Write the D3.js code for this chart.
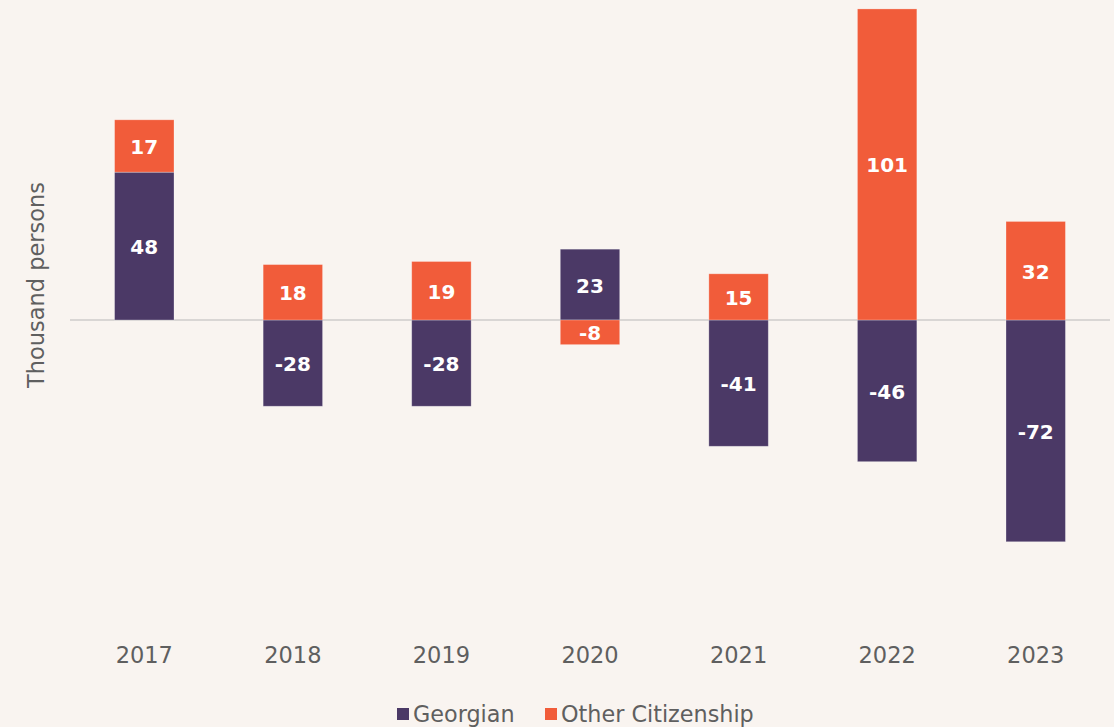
<!DOCTYPE html>
<html>
<head>
<meta charset="utf-8">
<script src="https://cdn.jsdelivr.net/npm/d3@7/dist/d3.min.js"></script>
<style>
  html, body { margin: 0; padding: 0; background: #f9f4f0; }
  svg { display: block; }
</style>
</head>
<body>
<svg id="chart" width="1114" height="727"></svg>
<script>
// Net migration by citizenship, thousand persons
const years = ["2017", "2018", "2019", "2020", "2021", "2022", "2023"];
const georgian = [48, -28, -28, 23, -41, -46, -72];
const otherCitizenship = [17, 18, 19, -8, 15, 101, 32];
const seriesNames = ["Georgian", "Other Citizenship"];
const seriesColors = ["#4b3966", "#f15c3a"];
const yTitle = "Thousand persons";

const svg = d3.select("#chart");
const plotLeft = 70, plotRight = 1110, plotTop = 8, plotBottom = 628;

const x = d3.scaleBand().domain(years).range([plotLeft, plotRight])
  .paddingInner(0.6).paddingOuter(0.3);
const y = d3.scaleLinear().domain([-100, 101.3]).range([plotBottom, plotTop]);

// Stack positives upward and negatives downward from zero
const segments = [];
years.forEach((yr, i) => {
  let pos = 0, neg = 0;
  [georgian[i], otherCitizenship[i]].forEach((v, s) => {
    let y0, y1;
    if (v >= 0) { y0 = pos; y1 = pos + v; pos = y1; }
    else { y0 = neg; y1 = neg + v; neg = y1; }
    segments.push({ year: yr, series: s, value: v, y0, y1 });
  });
});

// Zero line
svg.append("line")
  .attr("x1", plotLeft).attr("x2", plotRight)
  .attr("y1", y(0)).attr("y2", y(0))
  .attr("stroke", "#d9d6d4").attr("stroke-width", 2);

const g = svg.append("g");
g.selectAll("rect").data(segments).join("rect")
  .attr("x", d => x(d.year))
  .attr("width", x.bandwidth())
  .attr("y", d => y(Math.max(d.y0, d.y1)))
  .attr("height", d => Math.abs(y(d.y0) - y(d.y1)))
  .attr("fill", d => seriesColors[d.series])
  .attr("stroke", "#ffffff").attr("stroke-opacity", 0.35).attr("stroke-width", 0.8);

g.selectAll("text.val").data(segments).join("text")
  .attr("class", "val")
  .attr("x", d => x(d.year) + x.bandwidth() / 2)
  .attr("y", d => (y(d.y0) + y(d.y1)) / 2 + 1)
  .attr("text-anchor", "middle")
  .attr("dominant-baseline", "central")
  .attr("font-family", "DejaVu Sans")
  .attr("font-weight", "bold")
  .attr("font-size", 20)
  .attr("fill", "#ffffff")
  .text(d => d.value);

// Category axis labels
const xAxis = d3.axisBottom(x).tickSize(0).tickPadding(0);
const ax = svg.append("g").attr("transform", "translate(0, 647)").call(xAxis);
ax.select(".domain").remove();
ax.selectAll("text")
  .attr("font-family", "DejaVu Sans")
  .attr("font-size", 22.5)
  .attr("fill", "#5f5f5f")
  .attr("dy", "0.71em");

// Y axis title
svg.append("text")
  .attr("transform", "translate(44, 285) rotate(-90)")
  .attr("text-anchor", "middle")
  .attr("font-family", "DejaVu Sans")
  .attr("font-size", 22.5)
  .attr("fill", "#5f5f5f")
  .text(yTitle);

// Legend
const legendX = [397, 545];
const legend = svg.append("g");
seriesNames.forEach((name, i) => {
  legend.append("rect")
    .attr("x", legendX[i]).attr("y", 708)
    .attr("width", 12).attr("height", 12)
    .attr("fill", seriesColors[i]);
  legend.append("text")
    .attr("x", legendX[i] + 16).attr("y", 714)
    .attr("dominant-baseline", "central")
    .attr("font-family", "DejaVu Sans")
    .attr("font-size", 22.3)
    .attr("fill", "#5f5f5f")
    .text(name);
});
</script>
</body>
</html>
